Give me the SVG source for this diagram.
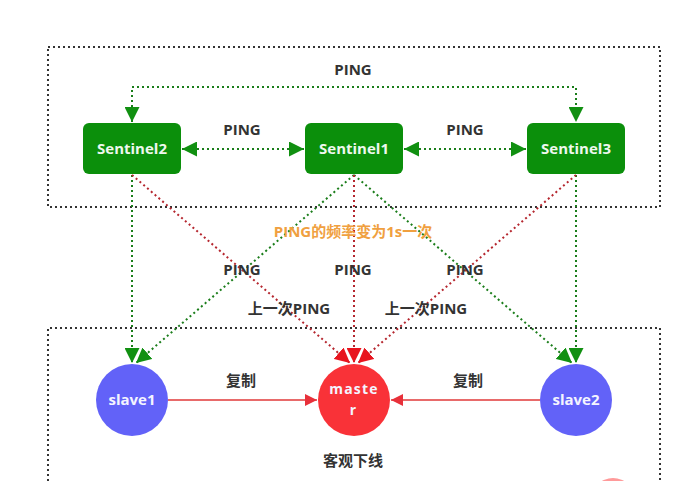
<svg xmlns="http://www.w3.org/2000/svg" width="692" height="481" viewBox="0 0 692 481">
<defs>
<style>
.box{fill:none;stroke:#333;stroke-width:2;stroke-dasharray:2 3}
.g{fill:none;stroke:#1a7d1a;stroke-width:2;stroke-dasharray:2 3}
.r{fill:none;stroke:#b5262e;stroke-width:2;stroke-dasharray:2 3}
.rs{fill:none;stroke:#e86a6a;stroke-width:2}
.sen{fill:#0b8f0b}
.st{font-family:"Open Sans","DejaVu Sans",sans-serif;font-weight:bold;font-size:15px;fill:#eef8ee;text-anchor:middle}
.lbl{font-family:"Open Sans","Noto Sans CJK SC",sans-serif;font-weight:bold;font-size:15px;fill:#333;text-anchor:middle}
.org{font-family:"Open Sans","Noto Sans CJK SC",sans-serif;font-weight:bold;font-size:15px;fill:#f0a040;text-anchor:middle}
.ct{font-family:"Open Sans","DejaVu Sans",sans-serif;font-weight:bold;font-size:15px;fill:#f4f4ff;text-anchor:middle}
.mt{font-family:"Open Sans","DejaVu Sans",sans-serif;font-weight:bold;font-size:14px;fill:#f4f4ff;text-anchor:middle}
</style>
<marker id="agb" viewBox="0 0 10 10" refX="10" refY="5" markerWidth="7.5" markerHeight="7.5" orient="auto-start-reverse" markerUnits="strokeWidth"><path d="M0,0L10,5L0,10z" fill="#119011"/></marker>
<marker id="ar" viewBox="0 0 10 10" refX="10" refY="5" markerWidth="7.5" markerHeight="7.5" orient="auto" markerUnits="strokeWidth"><path d="M0,0L10,5L0,10z" fill="#e8141e"/></marker>
<marker id="ar2" viewBox="0 0 10 10" refX="10" refY="5" markerWidth="6" markerHeight="6" orient="auto" markerUnits="strokeWidth"><path d="M0,0L10,5L0,10z" fill="#e8303a"/></marker>
</defs>
<rect width="692" height="481" fill="#fff"/>
<rect class="box" x="48" y="47" width="612" height="160"/>
<path class="box" d="M48,481V328H660V481"/>
<circle cx="613" cy="500" r="22" fill="#ff9a9a"/>
<g id="connectors">
<path class="g" d="M132,122V87H576V122" marker-start="url(#agb)" marker-end="url(#agb)"/>
<line class="g" x1="182" y1="149" x2="304" y2="149" marker-start="url(#agb)" marker-end="url(#agb)"/>
<line class="g" x1="404" y1="149" x2="526" y2="149" marker-start="url(#agb)" marker-end="url(#agb)"/>
<line class="g" x1="132" y1="175" x2="132" y2="363" marker-end="url(#agb)"/>
<line class="g" x1="354" y1="175" x2="136" y2="363" marker-end="url(#agb)"/>
<line class="g" x1="354" y1="175" x2="572" y2="363" marker-end="url(#agb)"/>
<line class="g" x1="576" y1="175" x2="576" y2="363" marker-end="url(#agb)"/>
<line class="r" x1="132" y1="175" x2="350" y2="363" marker-end="url(#ar)"/>
<line class="r" x1="354" y1="175" x2="354" y2="363" marker-end="url(#ar)"/>
<line class="r" x1="576" y1="175" x2="358" y2="363" marker-end="url(#ar)"/>
<line class="rs" x1="168" y1="400" x2="317" y2="400" marker-end="url(#ar2)"/>
<line class="rs" x1="540" y1="400" x2="391" y2="400" marker-end="url(#ar2)"/>
</g>
<g id="sentinel2"><rect class="sen" x="83" y="123" width="98" height="51" rx="6"/><text class="st" x="132" y="154">Sentinel2</text></g>
<g id="sentinel1"><rect class="sen" x="305" y="123" width="98" height="51" rx="6"/><text class="st" x="354" y="154">Sentinel1</text></g>
<g id="sentinel3"><rect class="sen" x="527" y="123" width="98" height="51" rx="6"/><text class="st" x="576" y="154">Sentinel3</text></g>
<g id="slave1"><circle cx="132" cy="400" r="36" fill="#6262f8"/><text class="ct" x="132" y="405">slave1</text></g>
<g id="master"><circle cx="354" cy="400" r="36" fill="#f93238"/><text class="mt" x="354" y="394" letter-spacing="1.2">maste</text><text class="mt" x="353" y="415">r</text></g>
<g id="slave2"><circle cx="576" cy="400" r="36" fill="#6262f8"/><text class="ct" x="576" y="405">slave2</text></g>
<g id="labels">
<text class="lbl" x="353" y="75">PING</text>
<text class="lbl" x="242" y="135">PING</text>
<text class="lbl" x="465" y="135">PING</text>
<text class="org" x="353" y="237">PING的频率变为1s一次</text>
<text class="lbl" x="242" y="275">PING</text>
<text class="lbl" x="353" y="275">PING</text>
<text class="lbl" x="465" y="275">PING</text>
<text class="lbl" x="289" y="314">上一次PING</text>
<text class="lbl" x="426" y="314">上一次PING</text>
<text class="lbl" x="241" y="386">复制</text>
<text class="lbl" x="468" y="386">复制</text>
<text class="lbl" x="353" y="466">客观下线</text>
</g>
</svg>
